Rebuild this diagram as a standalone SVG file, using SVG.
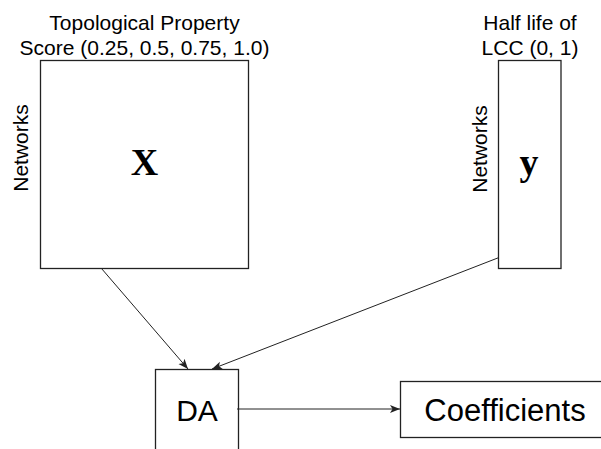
<svg xmlns="http://www.w3.org/2000/svg" width="601" height="449" viewBox="0 0 601 449">
<defs>
<style>
.box{fill:#fff;stroke:#222;stroke-width:1.3}
.lbl{font-family:"Liberation Sans",Arial,sans-serif;fill:#000}
.math{font-family:"Liberation Serif","Times New Roman",serif;font-weight:bold;fill:#000}
.edge{fill:none;stroke:#222;stroke-width:1}
</style>
<marker id="arr" viewBox="0 0 10 10" refX="10" refY="5" markerWidth="10" markerHeight="10" markerUnits="userSpaceOnUse" orient="auto">
<path d="M0,1 L10,5 L0,9 L2.5,5 Z" fill="#222"/>
</marker>
</defs>
<rect width="601" height="449" fill="#fff"/>
<g id="nodeX">
<rect class="box" x="40.5" y="60.5" width="208" height="208"/>
<text class="math" x="144.5" y="175" font-size="38" text-anchor="middle">X</text>
<text class="lbl" x="144.5" y="30" font-size="21" text-anchor="middle">Topological Property</text>
<text class="lbl" x="144.5" y="55" font-size="21" text-anchor="middle">Score (0.25, 0.5, 0.75, 1.0)</text>
<text class="lbl" font-size="21" text-anchor="middle" transform="translate(28,148) rotate(-90)">Networks</text>
</g>
<g id="nodeY">
<rect class="box" x="498.5" y="60.5" width="62.5" height="208"/>
<text class="math" x="529" y="175" font-size="38" text-anchor="middle">y</text>
<text class="lbl" x="530" y="30" font-size="21" text-anchor="middle">Half life of</text>
<text class="lbl" x="530" y="55" font-size="21" text-anchor="middle">LCC (0, 1)</text>
<text class="lbl" font-size="21" text-anchor="middle" transform="translate(487,149) rotate(-90)">Networks</text>
</g>
<g id="nodeDA">
<rect class="box" x="155.5" y="369.5" width="83" height="100"/>
<text class="lbl" x="197" y="420.5" font-size="30" text-anchor="middle">DA</text>
</g>
<g id="nodeCoef">
<rect class="box" x="400.5" y="381.5" width="210" height="56"/>
<text class="lbl" x="505" y="421" font-size="31" text-anchor="middle">Coefficients</text>
</g>
<g id="connectors">
<line class="edge" x1="101.5" y1="268.5" x2="188" y2="369" marker-end="url(#arr)"/>
<line class="edge" x1="499" y1="257.5" x2="212" y2="369" marker-end="url(#arr)"/>
<line class="edge" x1="237" y1="409" x2="400" y2="409" marker-end="url(#arr)"/>
</g>
</svg>
